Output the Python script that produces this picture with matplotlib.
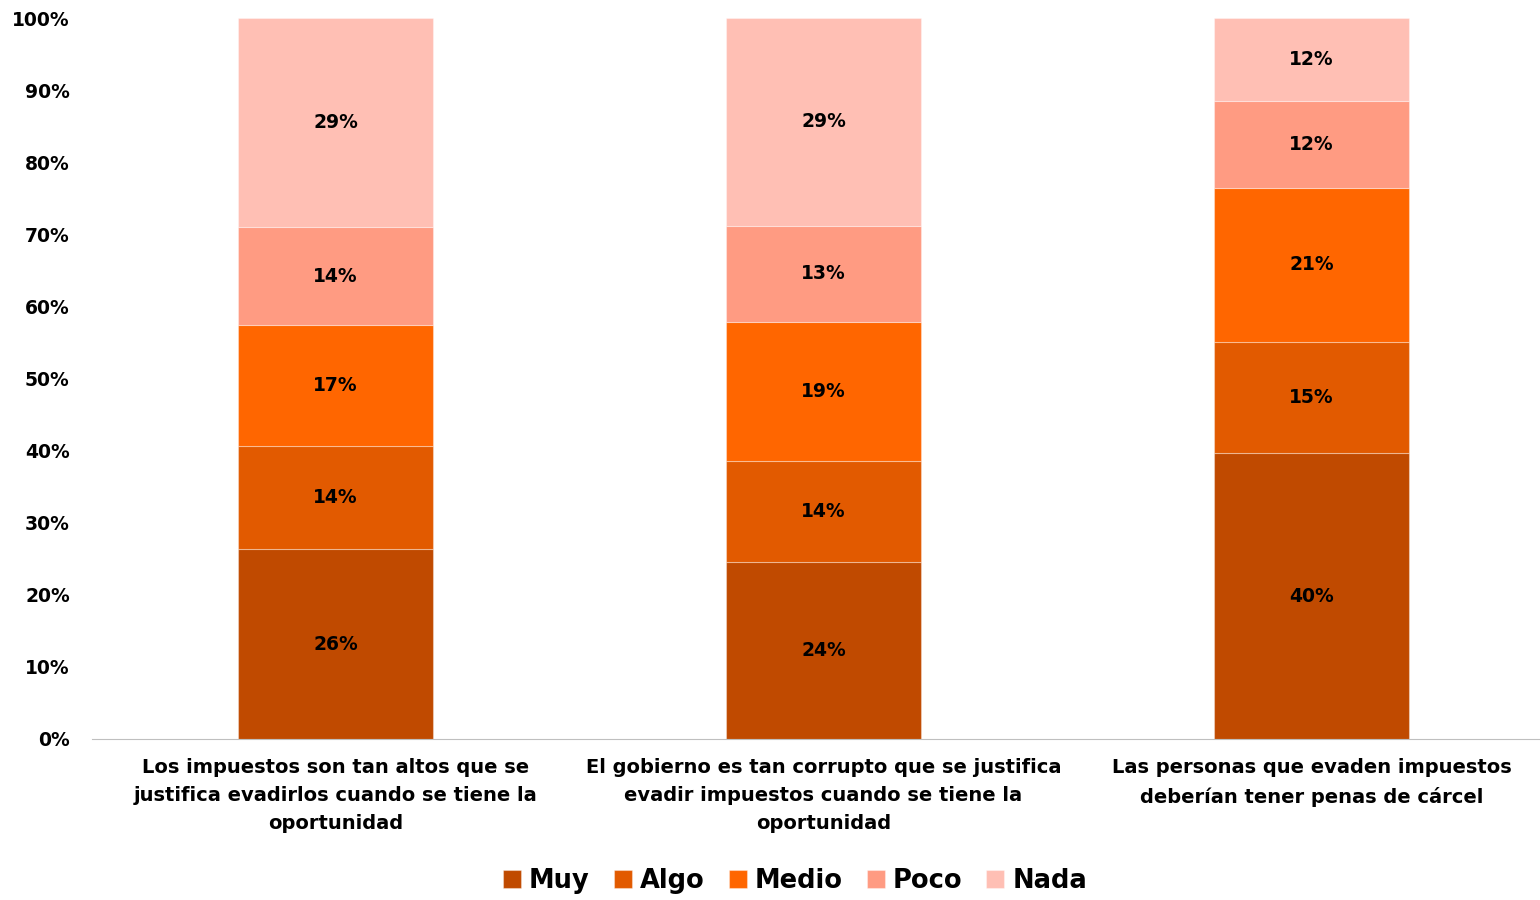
import matplotlib
matplotlib.use("Agg")
import matplotlib.pyplot as plt
import numpy as np

categories = [
    "Los impuestos son tan altos que se\njustifica evadirlos cuando se tiene la\noportunidad",
    "El gobierno es tan corrupto que se justifica\nevadir impuestos cuando se tiene la\noportunidad",
    "Las personas que evaden impuestos\ndeberían tener penas de cárcel",
]
series_names = ["Muy", "Algo", "Medio", "Poco", "Nada"]
muy = [26.3, 24.5, 39.6]
algo = [14.3, 14.0, 15.5]
medio = [16.8, 19.3, 21.3]
poco = [13.6, 13.4, 12.1]
nada = [29.0, 28.8, 11.5]
labels_muy = ["26%", "24%", "40%"]
labels_algo = ["14%", "14%", "15%"]
labels_medio = ["17%", "19%", "21%"]
labels_poco = ["14%", "13%", "12%"]
labels_nada = ["29%", "29%", "12%"]

colors = ["#C04A00", "#E25A00", "#FF6600", "#FF9B82", "#FFBFB4"]

plt.rcParams['font.family'] = ['DejaVu Sans']
fig = plt.figure(figsize=(15.4, 9), dpi=100)
ax = fig.add_axes([92/1540, 1-739/900, 1-92/1540, (739-18)/900])

x = np.arange(len(categories))
bottom = np.zeros(len(categories))
all_series = [muy, algo, medio, poco, nada]
all_labels = [labels_muy, labels_algo, labels_medio, labels_poco, labels_nada]
for name, vals, labs, col in zip(series_names, all_series, all_labels, colors):
    vals = np.array(vals)
    ax.bar(x, vals, width=0.4, bottom=bottom, color=col, label=name,
           edgecolor=(1, 1, 1, 0.35), linewidth=0.8)
    for xi, b, v, lab in zip(x, bottom, vals, labs):
        ax.text(xi, b + v / 2, lab, ha="center", va="center", fontsize=13.5,
                fontweight="bold", color="black")
    bottom += vals

ax.set_ylim(0, 100)
ax.set_xlim(-(335.5 - 92) / 488, 2 + (1540 - 1311.5) / 488)
ax.set_yticks(np.arange(0, 101, 10))
ax.set_yticklabels([f"{v}%" for v in range(0, 101, 10)], fontsize=13.5, fontweight="bold")
ax.set_xticks(x)
ax.set_xticklabels(categories, fontsize=14, fontweight="bold", linespacing=1.6)
ax.tick_params(axis="both", length=0)
ax.tick_params(axis="x", pad=14)
ax.tick_params(axis="y", pad=16)
for s in ["top", "right", "left"]:
    ax.spines[s].set_visible(False)
ax.spines["bottom"].set_color("#BFBFBF")

fig.legend(loc="center", bbox_to_anchor=(795/1540, 1-881/900), ncol=5, frameon=False,
           prop={"size": 18.5, "weight": "bold"}, handlelength=0.7, handleheight=0.7,
           handletextpad=0.3, columnspacing=0.95)

fig.savefig("out.png", dpi=100, facecolor="white")
